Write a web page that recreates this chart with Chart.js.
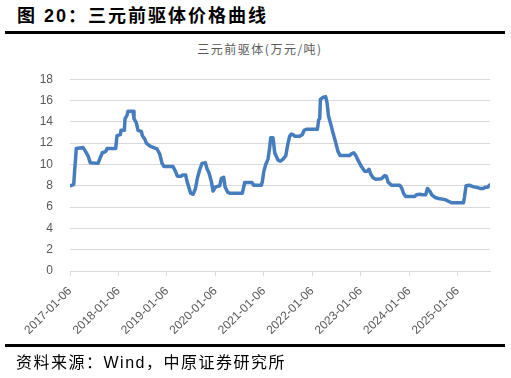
<!DOCTYPE html>
<html><head><meta charset="utf-8">
<script src="https://cdn.jsdelivr.net/npm/chart.js@4.4.1/dist/chart.umd.min.js"></script>
<style>
html,body{margin:0;padding:0;background:#fff;}
body{width:511px;height:378px;position:relative;overflow:hidden;}
#t{position:absolute;left:17px;top:5px;font:bold 18px/22px "Liberation Sans","Noto Sans CJK SC",sans-serif;letter-spacing:2px;color:#000;white-space:nowrap;}
.rule{position:absolute;left:5px;width:500px;height:3px;background:#000;}
#ct{position:absolute;left:0;top:41px;width:520px;text-align:center;font:12px/16px "Noto Sans CJK SC",sans-serif;letter-spacing:1.5px;color:#595959;white-space:nowrap;}
#c{position:absolute;left:0;top:55px;}
#src{position:absolute;left:16px;top:353px;font:16px/20px "Liberation Sans","Noto Sans CJK SC",sans-serif;letter-spacing:1.5px;color:#000;white-space:nowrap;}
</style></head>
<body>
<div id="t">图 20：三元前驱体价格曲线</div>
<div class="rule" style="top:31px"></div>
<div id="ct">三元前驱体(万元/吨)</div>
<canvas id="c" width="511" height="290"></canvas>
<div class="rule" style="top:344px"></div>
<div id="src">资料来源：Wind，中原证券研究所</div>
<script>
// time in years since 2017-01-06
const yearsSinceStart = [
 0.000,0.076,0.096,0.131,0.200,0.268,0.323,0.372,0.420,0.578,
 0.613,0.668,0.736,0.764,0.943,0.970,1.039,1.053,1.122,1.136,
 1.177,1.198,1.301,1.321,1.370,1.404,1.473,1.493,1.542,1.576,
 1.645,1.714,1.796,1.851,1.900,1.941,2.127,2.182,2.216,2.299,
 2.319,2.388,2.416,2.457,2.491,2.540,2.588,2.629,2.677,2.725,
 2.794,2.829,2.870,2.918,2.953,3.008,3.090,3.125,3.173,3.200,
 3.255,3.297,3.558,3.606,3.758,3.792,3.950,3.971,3.999,4.040,
 4.088,4.122,4.143,4.191,4.226,4.295,4.343,4.398,4.453,4.501,
 4.535,4.570,4.604,4.638,4.742,4.797,4.831,4.879,5.107,5.134,
 5.155,5.169,5.224,5.279,5.306,5.334,5.396,5.430,5.485,5.533,
 5.575,5.774,5.808,5.857,5.898,5.946,6.015,6.084,6.132,6.173,
 6.207,6.256,6.311,6.428,6.497,6.531,6.566,6.635,6.807,6.841,
 6.889,6.930,7.116,7.151,7.220,7.275,7.343,7.378,7.433,7.467,
 7.536,7.605,7.743,7.811,7.880,8.121,8.142,8.176,8.245,8.328,
 8.396,8.465,8.534,8.569,8.617,8.658
];
// price, 万元/吨
const prices = [
 8.0,8.1,9.4,11.5,11.55,11.6,11.2,10.8,10.15,10.1,
 10.5,11.1,11.2,11.5,11.5,12.7,12.8,13.2,13.2,14.3,
 14.6,15.0,15.0,14.3,13.9,13.2,13.1,12.7,12.4,12.0,
 11.75,11.6,11.45,11.0,10.1,9.8,9.8,9.3,8.9,8.9,
 9.0,9.0,8.4,7.8,7.3,7.2,7.7,8.7,9.5,10.1,
 10.15,9.6,9.2,8.4,7.5,7.9,8.0,8.7,8.8,7.9,
 7.4,7.3,7.3,8.3,8.3,8.05,8.05,8.4,9.3,10.0,
 10.5,11.6,12.5,12.5,11.1,10.4,10.3,10.5,10.8,12.0,
 12.65,12.85,12.8,12.65,12.65,12.8,13.2,13.3,13.3,14.2,
 14.3,16.1,16.3,16.35,15.8,14.6,13.55,12.95,12.05,11.2,
 10.85,10.85,11.0,11.1,10.85,10.4,9.8,9.35,9.35,9.55,
 9.1,8.75,8.6,8.65,8.95,8.9,8.35,8.05,8.05,7.85,
 7.25,7.0,7.0,7.15,7.2,7.15,7.15,7.75,7.45,7.15,
 6.9,6.8,6.7,6.55,6.4,6.4,6.9,8.0,8.05,7.9,
 7.85,7.75,7.75,7.85,7.85,8.05
];
const tickPositions = [0,1,2,3,4,5,6,7,8];
const tickLabels = ['2017-01-06','2018-01-06','2019-01-06','2020-01-06','2021-01-06','2022-01-06','2023-01-06','2024-01-06','2025-01-06'];
const yTicks = [0,2,4,6,8,10,12,14,16,18];

const points = yearsSinceStart.map((x,i)=>({x:x,y:prices[i]}));
const tickFont = {family:'"Liberation Sans", Arial, sans-serif', size:12};

new Chart(document.getElementById('c'), {
  type:'line',
  data:{datasets:[{
    data:points,
    borderColor:'#467DBE',
    borderWidth:3.5,
    pointRadius:0,
    tension:0,
    borderJoinStyle:'round',
    borderCapStyle:'round',
    fill:false
  }]},
  options:{
    responsive:false,
    animation:false,
    devicePixelRatio:1,
    layout:{padding:{left:0,right:21,top:18,bottom:0}},
    plugins:{legend:{display:false},tooltip:{enabled:false},title:{display:false}},
    scales:{
      x:{
        type:'linear',
        min:0,max:8.67,
        afterBuildTicks:(axis)=>{axis.ticks = tickPositions.map(v=>({value:v}));},
        afterFit:(axis)=>{axis.height = 74;},
        ticks:{
          autoSkip:false,
          maxRotation:45,minRotation:45,
          color:'#595959',font:tickFont,padding:8,
          callback:(v)=>{const i = tickPositions.indexOf(v); return i>=0 ? tickLabels[i] : '';}
        },
        grid:{display:true,drawOnChartArea:false,drawTicks:true,tickLength:5,color:'#d9d9d9',lineWidth:1},
        border:{display:true,color:'#d9d9d9',width:1}
      },
      y:{
        min:0,max:18,
        afterBuildTicks:(axis)=>{axis.ticks = yTicks.map(v=>({value:v}));},
        afterFit:(axis)=>{axis.width = 70;},
        ticks:{color:'#595959',font:tickFont,padding:17},
        grid:{color:'#d9d9d9',lineWidth:1,drawTicks:false},
        border:{display:false}
      }
    }
  }
});
</script>
</body></html>
